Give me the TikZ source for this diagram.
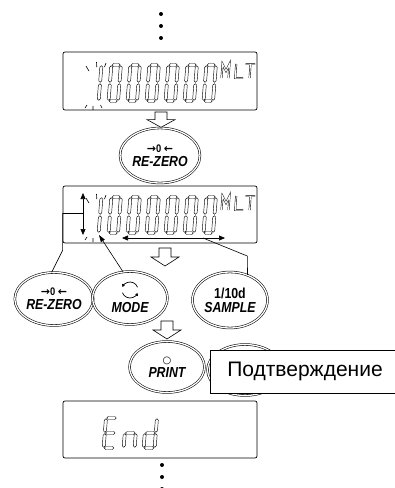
\documentclass[tikz,border=0pt]{standalone}
\usepackage{fontspec}
\setmainfont{Liberation Sans}
\newfontfamily\btnfont[FakeStretch=0.85]{Liberation Sans}
\newfontfamily\symfont{DejaVu Sans}
\usetikzlibrary{arrows.meta, positioning, shapes.geometric}

%% LCD segments (digit cell: top-left origin, y downwards)
\def\lcdw{9.5}
\def\lcdh{36}
\newcommand{\lcdhseg}[1]{\draw[lcdseg] (0.7,#1) -- (2.2,#1-1.5) -- (\lcdw-2.2,#1-1.5) -- (\lcdw-0.7,#1) -- (\lcdw-2.2,#1+1.5) -- (2.2,#1+1.5) -- cycle;}
\newcommand{\lcdvseg}[3]{\draw[lcdseg] (#1,#2+0.7) -- (#1+1.5,#2+2.2) -- (#1+1.5,#3-2.2) -- (#1,#3-0.7) -- (#1-1.5,#3-2.2) -- (#1-1.5,#2+2.2) -- cycle;}
\newcommand{\lcdsega}{\lcdhseg{0}}
\newcommand{\lcdsegb}{\lcdvseg{\lcdw}{0}{\lcdh/2}}
\newcommand{\lcdsegc}{\lcdvseg{\lcdw}{\lcdh/2}{\lcdh}}
\newcommand{\lcdsegd}{\lcdhseg{\lcdh}}
\newcommand{\lcdsege}{\lcdvseg{0}{\lcdh/2}{\lcdh}}
\newcommand{\lcdsegf}{\lcdvseg{0}{0}{\lcdh/2}}
\newcommand{\lcdsegg}{\lcdhseg{\lcdh/2}}
\newcommand{\lcdchar}[3]{%
  \begin{scope}[shift={(#1,#2)}, xslant=0.08]
    \foreach \s in {#3} {\csname lcdseg\s\endcsname}
  \end{scope}}
%% one display line: 1000000 MLT, blinking first digit
\newcommand{\lcdrow}[1]{%
  \lcdchar{92}{#1}{b,c}
  \foreach \k in {0,...,5} {\lcdchar{111.4+19*\k}{#1}{a,b,c,d,e,f}}
  \draw[lcdstroke] (221.5,#1+13) -- (222.5,#1-1) -- (226,#1+6) -- (229.5,#1-1) -- (228.5,#1+13);
  \draw[lcdstroke] (236.2,#1-1) -- (235.2,#1+13) -- (243,#1+13);
  \draw[lcdstroke] (245.5,#1-1) -- (255,#1-1) (250.5,#1-1) -- (249.6,#1+13);
  \draw[blink] (86,#1+1) -- (89,#1+6) (96.5,#1-3) -- (96.8,#1+2) (106,#1-2) -- (104.5,#1+2)
    (85,#1+43) -- (87,#1+40) (93,#1+45) -- (93,#1+41) (100.5,#1+40) -- (102,#1+43);
}

\begin{document}
\begin{tikzpicture}[
  x=1pt, y=-1pt,
  lcdbox/.style={draw, rounded corners=2pt, line width=0.7pt,
                 minimum width=194pt, minimum height=57pt, inner sep=0pt},
  lcdseg/.style={draw, line width=0.45pt, line join=round},
  lcdstroke/.style={draw, double=white, line width=0.45pt, double distance=1pt},
  blink/.style={line width=0.6pt},
  btn/.style={ellipse, draw, double, line width=0.55pt, double distance=1.3pt,
              minimum width=75pt, minimum height=53pt, inner sep=0pt, align=center,
              font=\btnfont\bfseries\itshape\fontsize{14.5}{14}\selectfont},
  zerokey/.style={font=\upshape\fontsize{11}{11}\selectfont},
  conn/.style={line width=0.6pt},
  dblarr/.style={conn, {Triangle[length=6pt,width=5pt]}-{Triangle[length=6pt,width=5pt]}},
  downarr/.pic={\draw[line width=0.6pt, fill=white]
     (-6,0) -- (-6,9) -- (-14,9) -- (0,18) -- (14,9) -- (6,9) -- (6,0) -- cycle;},
]
\useasboundingbox (0,0) rectangle (395,488);

%% Displays
\node[lcdbox, minimum height=58pt] (disp1) at (160,81) {};
\node[lcdbox] (disp2) at (160,214.5) {};
\node[lcdbox] (dispend) at (160,429.5) {};
\lcdrow{65}
\lcdrow{197}
\begin{scope}
  \def\lcdh{30}\def\lcdw{11}
  \lcdchar{106}{418}{a,d,e,f,g}
  \lcdchar{126}{418}{c,e,g}
  \lcdchar{146}{418}{b,c,d,e,g}
\end{scope}

%% Keys
\node[btn, minimum width=80pt, minimum height=55pt] (rezero1) at (160,155.5)
  {{\upshape\fontsize{11}{11}\selectfont{\symfont\bfseries →}0 {\symfont\bfseries ←}}\\[0pt]RE-ZERO};
\node[btn] (rezero2) at (54,299)
  {{\upshape\fontsize{11}{11}\selectfont{\symfont\bfseries →}0 {\symfont\bfseries ←}}\\[0pt]RE-ZERO};
\node[btn] (mode) at (130,298) {\rule{0pt}{15pt}\\MODE};
\node[btn, minimum height=56pt] (sample) at (230,300) {{\upshape 1/10d}\\SAMPLE};
\node[btn, minimum height=51pt] (enter) at (245,370) {};
\node[btn, minimum height=51pt] (print) at (167,367)
  {{\symfont\mdseries\upshape\fontsize{10}{10}\selectfont ○}\\PRINT};
\draw[line width=0.7pt, -{Latex[length=3pt,width=3.5pt]}] ([yshift=8pt]mode.center) ++(20:8pt) arc (20:160:8pt);
\draw[line width=0.7pt, -{Latex[length=3pt,width=3.5pt]}] ([yshift=8pt]mode.center) ++(200:8pt) arc (200:340:8pt);

%% Label
\node[draw, fill=white, line width=0.9pt, minimum width=190pt, minimum height=43pt,
      font=\fontsize{21}{24}\selectfont] (confirm) at (305,371.5) {Подтверждение};

%% Step arrows
\pic[yscale=0.85] at (161,112) {downarr};
\pic at (165,248) {downarr};
\pic at (167,321) {downarr};
\foreach \y in {14,26,38} \fill (161,\y) circle (2pt);
\foreach \y in {465,477,489} \fill (162,\y) circle (2pt);

%% Indicators in the second display
\coordinate (uptop) at (83,193);
\coordinate (upbot) at (83,235);
\coordinate (updown) at (83,213.5);
\coordinate (hl) at (122,238);
\coordinate (hr) at (225,238);
\coordinate (hm) at (203,238);
\coordinate (sbend) at (247.3,256);
\coordinate (onetip) at (99,235);
\draw[dblarr] (uptop) -- (upbot);
\draw[dblarr] (hl) -- (hr);

%% Leaders from the keys
\draw[conn] (rezero2.95) -- ([yshift=-7pt]disp2.south west) -- (disp2.south west) |- (updown);
\draw[conn, -{Triangle[length=7pt,width=4.5pt]}] (mode.105) -- (onetip);
\draw[conn] (hm) -- (sbend) -- (sample.55);
\end{tikzpicture}
\end{document}
